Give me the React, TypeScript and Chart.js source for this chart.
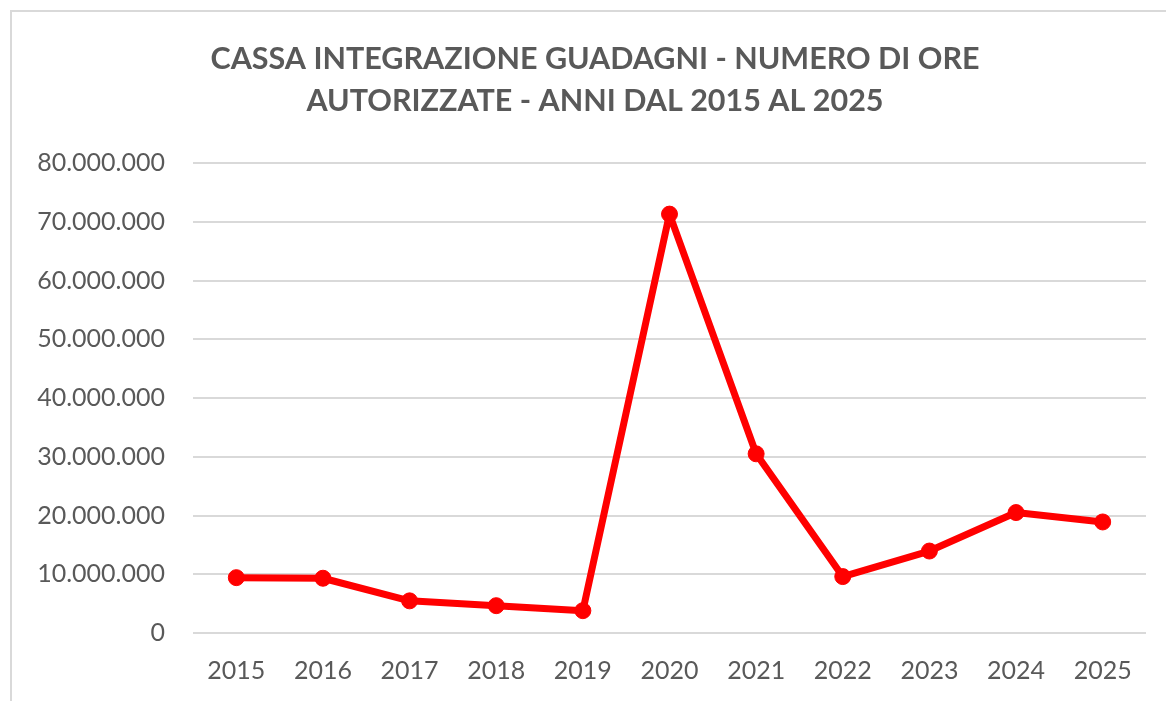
import React, { useEffect, useRef } from "react";
import { Chart, registerables } from "chart.js";

Chart.register(...registerables);

const TITLE_LINES = [
  "CASSA INTEGRAZIONE GUADAGNI - NUMERO DI ORE",
  "AUTORIZZATE - ANNI DAL 2015 AL 2025",
];
const YEARS = ["2015", "2016", "2017", "2018", "2019", "2020", "2021", "2022", "2023", "2024", "2025"];
const ORE_AUTORIZZATE = [
  9420000, 9320000, 5470000, 4650000, 3800000, 71300000, 30500000, 9600000, 13950000, 20500000, 18900000,
];
const Y_MIN = 0;
const Y_MAX = 80000000;
const Y_STEP = 10000000;

const TEXT_COLOR = "#595959";
const GRID_COLOR = "#d9d9d9";
const LINE_COLOR = "#ff0000";
const FONT_FAMILY = "Lato, 'Open Sans', sans-serif";

function formatIt(v: number): string {
  const s = Math.round(v).toString();
  return s.replace(/\B(?=(\d{3})+(?!\d))/g, ".");
}

export default function App() {
  const ref = useRef<HTMLCanvasElement | null>(null);

  useEffect(() => {
    if (!ref.current) return;
    const chart = new Chart(ref.current, {
      type: "line",
      data: {
        labels: YEARS,
        datasets: [
          {
            label: "Ore autorizzate",
            data: ORE_AUTORIZZATE,
            yAxisID: "y",
            borderColor: LINE_COLOR,
            backgroundColor: LINE_COLOR,
            borderWidth: 7,
            pointRadius: 8,
            pointBorderWidth: 1,
            pointBorderColor: LINE_COLOR,
            pointBackgroundColor: LINE_COLOR,
            tension: 0,
            borderJoinStyle: "round",
            borderCapStyle: "round",
          },
        ],
      },
      options: {
        responsive: false,
        animation: false,
        layout: { padding: 0 },
        plugins: {
          legend: { display: false },
          tooltip: { enabled: false },
          title: {
            display: true,
            text: TITLE_LINES,
            color: TEXT_COLOR,
            font: { family: FONT_FAMILY, size: 30.5, weight: "bold", lineHeight: 42.4 / 30.5 },
            padding: { top: 37.6, bottom: 40.6 },
          },
        },
        scales: {
          x: {
            offset: true,
            grid: { display: false, drawTicks: false },
            border: { display: false },
            ticks: {
              color: TEXT_COLOR,
              font: { family: FONT_FAMILY, size: 25, lineHeight: 1.2 },
              padding: 23,
              maxRotation: 0,
              autoSkip: false,
            },
            afterFit: (s: any) => {
              s.height = 68;
            },
          },
          y: {
            min: Y_MIN,
            max: Y_MAX,
            grid: { color: GRID_COLOR, lineWidth: 2, drawTicks: false },
            border: { display: false },
            ticks: {
              stepSize: Y_STEP,
              color: TEXT_COLOR,
              font: { family: FONT_FAMILY, size: 25 },
              padding: 28,
              callback: (v: any) => formatIt(Number(v)),
            },
            afterFit: (s: any) => {
              s.width = 193;
            },
          },
          spacer: {
            type: "linear",
            position: "right",
            min: Y_MIN,
            max: Y_MAX,
            grid: { display: false, drawTicks: false },
            border: { display: false },
            ticks: { display: false },
            afterFit: (s: any) => {
              s.width = 44;
            },
          },
        },
      },
    });
    return () => chart.destroy();
  }, []);

  return (
    <div
      style={{
        position: "fixed",
        left: 0,
        top: 0,
        width: 1166,
        height: 701,
        overflow: "hidden",
        background: "#ffffff",
      }}
    >
      <div
        style={{
          position: "absolute",
          left: 10,
          top: 10,
          width: 1170,
          height: 700,
          border: `2px solid ${GRID_COLOR}`,
          boxSizing: "border-box",
        }}
      />
      <canvas
        ref={ref}
        width={1190}
        height={701}
        style={{ position: "absolute", left: 0, top: 0, width: 1190, height: 701 }}
      />
    </div>
  );
}
